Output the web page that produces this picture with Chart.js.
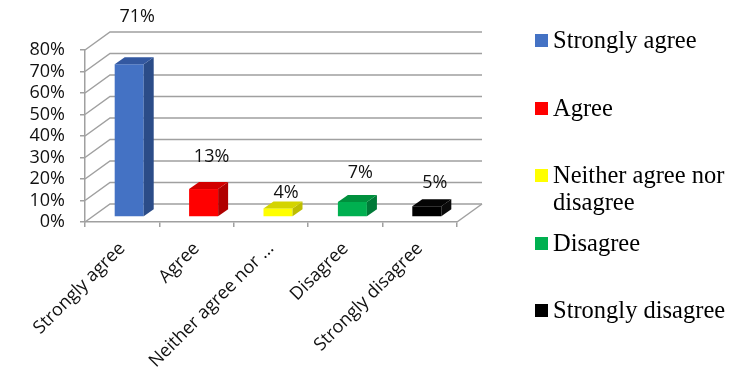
<!DOCTYPE html>
<html>
<head>
<meta charset="utf-8">
<script src="https://cdn.jsdelivr.net/npm/chart.js@4.4.1/dist/chart.umd.min.js"></script>
<style>
    body { margin: 0; background: #fff; }
    #wrap { position: relative; width: 750px; height: 378px; }
    #legenda {
        position: absolute; left: 535px; top: 26px;
        font-family: "Liberation Serif", "Times New Roman", serif;
        font-size: 24.5px; color: #000;
    }
    .item { display: flex; align-items: flex-start; height: 67.5px; }
    .caixa { width: 13px; height: 13px; margin-top: 8px; margin-right: 5px; flex: none; }
    .texto { line-height: 27px; max-width: 195px; }
</style>
</head>
<body>
<div id="wrap">
    <canvas id="grafico"></canvas>
    <div id="legenda"></div>
</div>
<script>
// Dados
const categorias = ["Strongly agree", "Agree", "Neither agree nor disagree", "Disagree", "Strongly disagree"];
const rotulosEixo = ["Strongly agree", "Agree", "Neither agree nor ...", "Disagree", "Strongly disagree"];
const valores = [71, 13, 4, 7, 5];
const eixoYMax = 80;
const eixoYPasso = 10;

// Cores (frente, lateral, topo)
const coresFrente = ["#4472C4", "#FF0000", "#FFFF00", "#00B050", "#000000"];
const coresLado = ["#2B4C88", "#B00000", "#BDBD00", "#007A38", "#0a0a0a"];
const coresTopo = ["#3358A0", "#D20000", "#D4D400", "#00903D", "#050505"];

// Geometria do efeito 3D
const corGrade = "#a0a0a0";
const parede = { dx: 25, dy: -18 };
const deslocBarra = { dx: 7, dy: -5 };
const profBarra = { dx: 10, dy: -7 };
const elevacaoRotulo = [47, 32, 16, 29, 23];

const fonteEixo = { family: "'Open Sans'", size: 18 };


// =============================
// Plugin: paredes, laterais e rótulos
// =============================
const efeito3D = {
    id: "efeito3D",
    beforeDatasetsDraw(chart) {
        const { ctx, chartArea, scales } = chart;
        const esq = chartArea.left;
        const dir = chartArea.right;

        ctx.save();
        ctx.strokeStyle = corGrade;
        ctx.lineWidth = 1.5;
        scales.y.ticks.forEach(t => {
            const py = scales.y.getPixelForValue(t.value);
            ctx.beginPath();
            ctx.moveTo(esq, py);
            ctx.lineTo(esq + parede.dx, py + parede.dy);
            ctx.lineTo(dir + parede.dx, py + parede.dy);
            ctx.stroke();
        });
        const zero = scales.y.getPixelForValue(0);
        ctx.beginPath();
        ctx.moveTo(dir, zero);
        ctx.lineTo(dir + parede.dx, zero + parede.dy);
        ctx.stroke();
        ctx.restore();

        // barras ficam um pouco para dentro do piso
        ctx.save();
        ctx.translate(deslocBarra.dx, deslocBarra.dy);
    },
    afterDatasetsDraw(chart) {
        const ctx = chart.ctx;
        const barras = chart.getDatasetMeta(0).data;

        barras.forEach((b, i) => {
            const { x, y, base, width } = b.getProps(["x", "y", "base", "width"], true);
            const e = x - width / 2;
            const d = x + width / 2;

            ctx.fillStyle = coresLado[i];
            ctx.beginPath();
            ctx.moveTo(d, y);
            ctx.lineTo(d + profBarra.dx, y + profBarra.dy);
            ctx.lineTo(d + profBarra.dx, base + profBarra.dy);
            ctx.lineTo(d, base);
            ctx.closePath();
            ctx.fill();

            ctx.fillStyle = coresTopo[i];
            ctx.beginPath();
            ctx.moveTo(e, y);
            ctx.lineTo(e + profBarra.dx, y + profBarra.dy);
            ctx.lineTo(d + profBarra.dx, y + profBarra.dy);
            ctx.lineTo(d, y);
            ctx.closePath();
            ctx.fill();
        });
        ctx.restore();

        ctx.save();
        ctx.font = "18px 'Open Sans'";
        ctx.fillStyle = "#111";
        ctx.textAlign = "center";
        ctx.textBaseline = "middle";
        barras.forEach((b, i) => {
            ctx.fillText(valores[i] + "%", b.x + 15, b.y + deslocBarra.dy - elevacaoRotulo[i]);
        });
        ctx.restore();
    }
};


// =============================
// Legenda em HTML (texto quebra em duas linhas)
// =============================
const legenda = document.getElementById("legenda");
categorias.forEach((c, i) => {
    const item = document.createElement("div");
    item.className = "item";
    item.innerHTML = `<span class="caixa" style="background:${coresFrente[i]}"></span><span class="texto">${c}</span>`;
    legenda.appendChild(item);
});


// =============================
// Gráfico
// =============================
const ctx = document.getElementById("grafico").getContext("2d");

new Chart(ctx, {
    type: "bar",
    data: {
        labels: rotulosEixo,
        datasets: [{
            label: "Respostas",
            data: valores,
            backgroundColor: coresFrente,
            borderWidth: 0,
            categoryPercentage: 1,
            barPercentage: 0.39
        }]
    },
    options: {
        responsive: true,
        maintainAspectRatio: false,
        animation: false,
        layout: { padding: { left: 0, right: 293, top: 50, bottom: 0 } },
        plugins: {
            legend: { display: false },
            tooltip: { enabled: false }
        },
        scales: {
            x: {
                grid: { drawOnChartArea: false, drawTicks: true, tickLength: 5, color: corGrade, lineWidth: 1.5 },
                border: { color: corGrade, width: 1.5 },
                ticks: {
                    font: fonteEixo, color: "#111",
                    minRotation: 45, maxRotation: 45, autoSkip: false, padding: 11
                },
                afterFit(scale) { scale.height = 156; }
            },
            y: {
                min: 0,
                max: eixoYMax,
                grid: { drawOnChartArea: false, drawTicks: true, tickLength: 5, color: corGrade, lineWidth: 1.5 },
                border: { color: corGrade, width: 1.5 },
                ticks: {
                    stepSize: eixoYPasso, autoSkip: false,
                    font: fonteEixo, color: "#111", padding: 15,
                    callback: v => v + "%"
                },
                afterFit(scale) { scale.width = 85; }
            }
        }
    },
    plugins: [efeito3D]
});
</script>
</body>
</html>
